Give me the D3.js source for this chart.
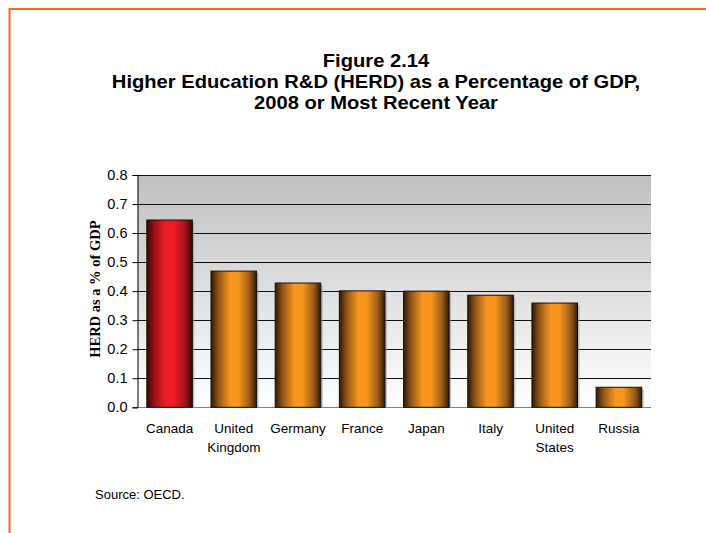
<!DOCTYPE html>
<html>
<head>
<meta charset="utf-8">
<script src="https://cdn.jsdelivr.net/npm/d3@7"></script>
<style>
  html, body { margin: 0; padding: 0; background: #fff; }
  svg { display: block; }
</style>
</head>
<body>
<svg id="chart" width="706" height="533"></svg>
<script>
// HERD as a share of GDP, 2008 or most recent year
const countries = ["Canada", "United Kingdom", "Germany", "France", "Japan", "Italy", "United States", "Russia"];
const herdPct = [0.645, 0.469, 0.428, 0.401, 0.400, 0.386, 0.359, 0.069];
const yTicks = [0.0, 0.1, 0.2, 0.3, 0.4, 0.5, 0.6, 0.7, 0.8];
const titleLines = ["Figure 2.14", "Higher Education R&D (HERD) as a Percentage of GDP,", "2008 or Most Recent Year"];
const highlight = "Canada";

const svg = d3.select("#chart");
const W = 706, H = 533;
const plot = { left: 137.5, right: 651, top: 175, bottom: 407.3 };
const sans = "Liberation Sans, Arial, sans-serif";

// page frame (top and left rules)
svg.append("line").attr("x1", 9.5).attr("x2", W).attr("y1", 9).attr("y2", 9)
  .attr("stroke", "#f26b2c").attr("stroke-width", 2);
svg.append("line").attr("x1", 9.5).attr("x2", 9.5).attr("y1", 8).attr("y2", H)
  .attr("stroke", "#f26b2c").attr("stroke-width", 2);

const defs = svg.append("defs");
const bg = defs.append("linearGradient").attr("id", "plotBg")
  .attr("x1", 0).attr("y1", 0).attr("x2", 0).attr("y2", 1);
bg.append("stop").attr("offset", "0%").attr("stop-color", "#c0c0c0");
bg.append("stop").attr("offset", "100%").attr("stop-color", "#ffffff");

function barGradient(id, dark, mid, bright) {
  const g = defs.append("linearGradient").attr("id", id)
    .attr("x1", 0).attr("y1", 0).attr("x2", 1).attr("y2", 0);
  [[0, dark], [0.18, mid], [0.42, bright], [0.6, bright], [0.85, mid], [1, dark]]
    .forEach(([o, c]) => g.append("stop").attr("offset", o).attr("stop-color", c));
}
barGradient("barOrange", "#2e1a06", "#9a5a18", "#f7961f");
barGradient("barRed", "#3a0606", "#a01218", "#ee1c25");

const x = d3.scaleBand().domain(countries).range([plot.left, plot.right])
  .paddingInner(0.29).paddingOuter(0.145);
const y = d3.scaleLinear().domain([0, 0.8]).range([plot.bottom, plot.top]);

// plot background
svg.append("rect").attr("x", plot.left).attr("y", plot.top)
  .attr("width", plot.right - plot.left).attr("height", plot.bottom - plot.top)
  .attr("fill", "url(#plotBg)");

// gridlines
svg.append("g").selectAll("line").data(yTicks).join("line")
  .attr("x1", plot.left).attr("x2", plot.right)
  .attr("y1", d => Math.round(y(d)) + 0.5).attr("y2", d => Math.round(y(d)) + 0.5)
  .attr("stroke", d => d === 0 ? "#808080" : "#111").attr("stroke-width", 1);

// y axis
const yAxis = svg.append("g").attr("transform", `translate(${plot.left},0)`)
  .call(d3.axisLeft(y).tickValues(yTicks).tickFormat(d3.format(".1f")).tickSize(5).tickPadding(5));
yAxis.select(".domain").attr("stroke", "#000");
yAxis.selectAll(".tick line").attr("stroke", "#000");
yAxis.selectAll("text").attr("font-family", sans)
  .attr("font-size", 14.5).attr("fill", "#000");

// bars with a soft drop shadow
const bars = svg.append("g");
bars.selectAll("rect.shadow").data(countries).join("rect").attr("class", "shadow")
  .attr("x", d => x(d) + 2).attr("y", (d, i) => y(herdPct[i]) + 2)
  .attr("width", x.bandwidth()).attr("height", (d, i) => y(0) - y(herdPct[i]) - 2)
  .attr("fill", "#9a9a9a").attr("opacity", 0.6);
bars.selectAll("rect.bar").data(countries).join("rect").attr("class", "bar")
  .attr("x", d => x(d)).attr("y", (d, i) => y(herdPct[i]))
  .attr("width", x.bandwidth()).attr("height", (d, i) => y(0) - y(herdPct[i]))
  .attr("fill", d => d === highlight ? "url(#barRed)" : "url(#barOrange)")
  .attr("stroke", "#1a0e04").attr("stroke-width", 1);

// category labels (wrapped on spaces)
const xl = svg.append("g").attr("font-family", sans)
  .attr("font-size", 13.5).attr("fill", "#000").attr("text-anchor", "middle");
countries.forEach(c => {
  const t = xl.append("text").attr("x", x(c) + x.bandwidth() / 2).attr("y", 433);
  c.split(" ").forEach((w, i) => t.append("tspan")
    .attr("x", x(c) + x.bandwidth() / 2).attr("dy", i === 0 ? 0 : 19).text(w));
});

// y axis title
svg.append("text")
  .attr("transform", `translate(100,${(plot.top + plot.bottom) / 2 - 2}) rotate(-90)`)
  .attr("text-anchor", "middle").attr("font-family", "Liberation Serif, Times New Roman, serif")
  .attr("font-weight", "bold").attr("font-size", 14.5).text("HERD as a % of GDP");

// title, set slightly wide
titleLines.forEach((s, i) => {
  svg.append("text")
    .attr("transform", `translate(376,${67 + i * 21}) scale(1.12,1)`)
    .attr("text-anchor", "middle").attr("font-family", sans).attr("font-weight", "bold")
    .attr("font-size", 18).attr("fill", "#000").text(s);
});

// source note
svg.append("text").attr("x", 95).attr("y", 499)
  .attr("font-family", sans).attr("font-size", 13)
  .attr("fill", "#000").text("Source: OECD.");
</script>
</body>
</html>
